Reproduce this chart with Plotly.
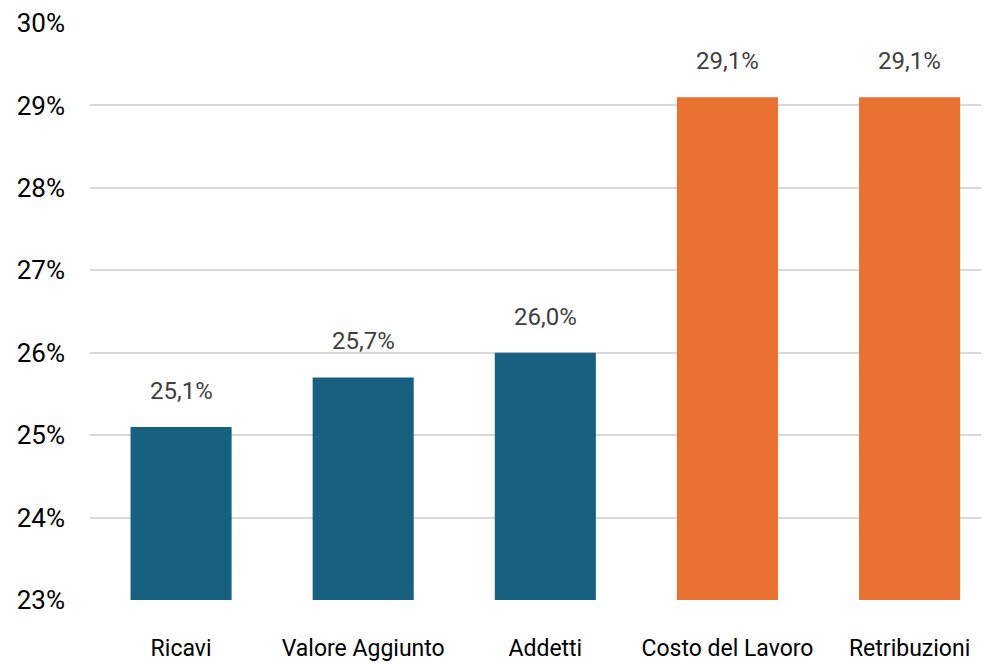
import plotly.graph_objects as go

categories = ["Ricavi", "Valore Aggiunto", "Addetti", "Costo del Lavoro", "Retribuzioni"]
values = [25.1, 25.7, 26.0, 29.1, 29.1]
bar_colors = ["#17607F", "#17607F", "#17607F", "#E97132", "#E97132"]
y_ticks = [23, 24, 25, 26, 27, 28, 29, 30]

FONT = "Liberation Sans Narrow, Arial Narrow, Roboto, sans-serif"

fig = go.Figure(
    go.Bar(
        x=categories,
        y=values,
        base=0,
        marker=dict(color=bar_colors, line=dict(width=0)),
        hoverinfo="skip",
    )
)

# data labels above each bar
for cat, val in zip(categories, values):
    fig.add_annotation(
        x=cat, y=val, yshift=36,
        text=f"{val:.1f}%".replace(".", ","),
        showarrow=False,
        font=dict(family=FONT, size=24, color="#404040"),
    )

# page body adds ~8px offset, so margins are shifted accordingly
fig.update_layout(
    width=989, height=668,
    margin=dict(l=82, r=0, t=15, b=76),
    paper_bgcolor="white", plot_bgcolor="white",
    showlegend=False,
    bargap=0.445,
    font=dict(family=FONT, size=24, color="black"),
)
fig.update_xaxes(
    range=[-0.5, 4.48],
    showgrid=False, showline=False, ticks="",
    tickangle=0, automargin=False,
    ticklabelstandoff=32,
    tickfont=dict(family=FONT, size=23, color="black"),
)
fig.update_yaxes(
    range=[23, 30],
    tickvals=y_ticks,
    ticktext=[f"{t}%" for t in y_ticks],
    showgrid=True, gridcolor="#D9D9D9", gridwidth=2,
    zeroline=False, showline=False, ticks="",
    automargin=False,
    ticklabelstandoff=24,
    tickfont=dict(family=FONT, size=26, color="black"),
)

fig.write_html("out.html")
